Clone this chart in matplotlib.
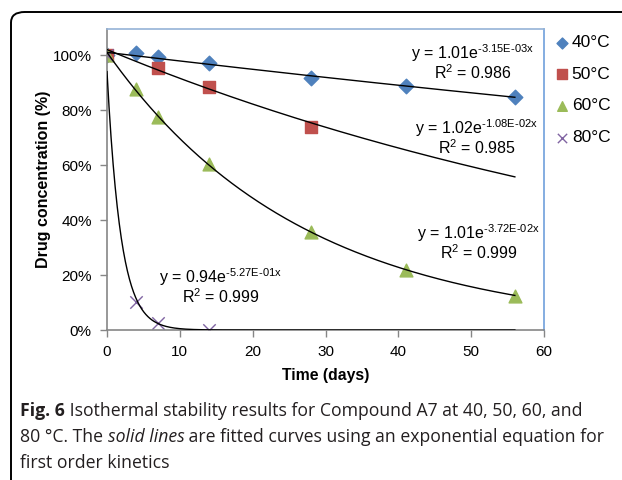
import numpy as np
import matplotlib.pyplot as plt
from matplotlib.patches import FancyBboxPatch
from matplotlib.ticker import PercentFormatter

# measured points (days, % remaining)
days_40 = [0, 4, 7, 14, 28, 41, 56]
conc_40 = [100, 100.8, 99.4, 97.1, 91.7, 88.8, 84.6]
days_50 = [0, 7, 14, 28]
conc_50 = [100, 95.3, 88.5, 73.9]
days_60 = [0, 4, 7, 14, 28, 41, 56]
conc_60 = [100, 87.5, 77.6, 60.5, 35.8, 21.9, 12.2]
days_80 = [0, 4, 7, 14]
conc_80 = [100, 10.3, 2.5, 0.0]

labels = ['40°C', '50°C', '60°C', '80°C']

# exponential trendline coefficients shown on the chart: y = a * exp(b * x)
fit_a = [1.01, 1.02, 1.01, 0.94]
fit_b = [-3.15e-03, -1.08e-02, -3.72e-02, -5.27e-01]
fit_r2 = ['0.986', '0.985', '0.999', '0.999']
fit_eq = ['1.01e$^{\\mathregular{\\text{-}3.15E\\text{-}03x}}$', '1.02e$^{\\mathregular{\\text{-}1.08E\\text{-}02x}}$',
          '1.01e$^{\\mathregular{\\text{-}3.72E\\text{-}02x}}$', '0.94e$^{\\mathregular{\\text{-}5.27E\\text{-}01x}}$']
# label anchor (days, %) for each equation
eq_pos = [(50.2, 100.7), (50.8, 73.5), (51.0, 35.3), (15.6, 19.3)]

plt.rcParams['font.family'] = ['Liberation Sans', 'DejaVu Sans']
plt.rcParams['mathtext.fontset'] = 'custom'
plt.rcParams['mathtext.rm'] = 'Liberation Sans'

fig = plt.figure(figsize=(6.22, 4.8), dpi=100)

# rounded frame of the figure panel (cut at right and bottom)
frame = FancyBboxPatch((11 / 622, -0.1), 1.2, 1 - 12 / 480 + 0.1,
                       boxstyle='round,pad=0,rounding_size=0.022',
                       transform=fig.transFigure, fill=False, ec='black', lw=1.4)
fig.patches.append(frame)

ax = fig.add_axes([107 / 622, 1 - 330 / 480, (544 - 107) / 622, (330 - 29) / 480])

colors = ['#4f81bd', '#c0504d', '#9bbb59', '#8064a2']

xs = np.linspace(0, 56, 400)
for a, b in zip(fit_a, fit_b):
    ax.plot(xs, a * np.exp(b * xs) * 100, color='black', lw=1.0, zorder=3)

ax.scatter(days_40, conc_40, marker='D', s=55, color=colors[0], label=labels[0], zorder=2)
ax.scatter(days_50, conc_50, marker='s', s=85, color=colors[1], label=labels[1], zorder=2)
ax.scatter(days_60, conc_60, marker='^', s=85, color=colors[2], label=labels[2], zorder=2)
ax.scatter(days_80, conc_80, marker='x', s=80, color=colors[3], linewidths=1.0, label=labels[3], zorder=2)

for (px, py), eq, r2 in zip(eq_pos, fit_eq, fit_r2):
    ax.text(px, py, 'y = ' + eq, ha='center', va='center', fontsize=11.5)
    ax.text(px, py - 7.2, 'R$^{\\mathregular{2}}$ = ' + r2, ha='center', va='center', fontsize=11.5)

ax.set_xlim(0, 60)
ax.set_ylim(0, 109.5)
ax.set_xticks(range(0, 61, 10))
ax.set_yticks(range(0, 101, 20))
ax.yaxis.set_major_formatter(PercentFormatter(100, decimals=0))
ax.tick_params(labelsize=11, length=5, width=1, color='#868686', pad=6)
ax.spines['left'].set_color('#868686')
ax.spines['bottom'].set_color('#868686')
ax.spines['top'].set_color('#95b3d7')
ax.spines['right'].set_color('#6f9fdc')
for s in ax.spines.values():
    s.set_linewidth(1.2)

ax.set_xlabel('Time (days)', fontsize=11.3, fontweight='bold', labelpad=6)
ax.set_ylabel('Drug concentration (%)', fontsize=11.5, fontweight='bold', labelpad=1)

ax.legend(loc='upper left', bbox_to_anchor=(557 / 622, 1 - 35 / 480), bbox_transform=fig.transFigure,
          frameon=False, fontsize=12.5, handlelength=0.6, handletextpad=0.25, labelspacing=0.95,
          markerscale=0.75, borderpad=0, borderaxespad=0)

# caption with mixed styles
cap_font = ['Open Sans', 'DejaVu Sans']
cap_size = 12.7
lines = [
    [('Fig. 6', 'bold', 'normal'), (' Isothermal stability results for Compound A7 at 40, 50, 60, and', 'normal', 'normal')],
    [('80 °C. The ', 'normal', 'normal'), ('solid lines', 'normal', 'italic'),
     (' are fitted curves using an exponential equation for', 'normal', 'normal')],
    [('first order kinetics', 'normal', 'normal')],
]
line_y = [411, 437, 463]
renderer = fig.canvas.get_renderer()
for parts, ypx in zip(lines, line_y):
    xpx = 20
    for txt, weight, style in parts:
        t = fig.text(xpx / 622, 1 - ypx / 480, txt, fontsize=cap_size, family=cap_font,
                     weight=weight, style=style, color='#231f20', va='center', ha='left')
        bb = t.get_window_extent(renderer)
        xpx += bb.width

fig.savefig('out.png', dpi=100)
